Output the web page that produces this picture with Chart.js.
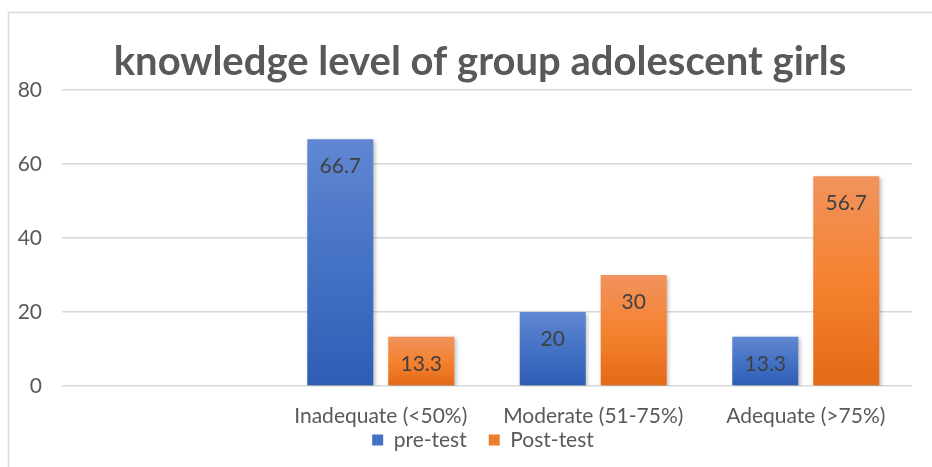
<!DOCTYPE html>
<html>
<head>
<meta charset="utf-8">
<script src="https://cdn.jsdelivr.net/npm/chart.js@4.4.1/dist/chart.umd.min.js"></script>
<style>
  html, body { margin: 0; padding: 0; background: #ffffff; }
  #wrap { width: 932px; height: 467px; position: relative; }
</style>
</head>
<body>
<div id="wrap"><canvas id="c"></canvas></div>
<script>
const categories = ['', 'Inadequate (<50%)', 'Moderate (51-75%)', 'Adequate (>75%)'];
const preTest = [null, 66.7, 20, 13.3];
const postTest = [null, 13.3, 30, 56.7];
const yTicks = [0, 20, 40, 60, 80];
const titleText = 'knowledge level of group adolescent girls';

const BLUE = { top: '#6187d2', mid: '#4472c4', bottom: '#2f5db6', solid: '#4472c4' };
const ORANGE = { top: '#f1935e', mid: '#f58230', bottom: '#e36a17', solid: '#ed7d31' };

function gradientFill(pal) {
  return function (ctx) {
    const chart = ctx.chart;
    if (ctx.type !== 'data' || !chart.chartArea || ctx.raw == null) return pal.solid;
    const ys = chart.scales.y;
    const yTop = ys.getPixelForValue(ctx.raw);
    const yBot = ys.getPixelForValue(0);
    if (!isFinite(yTop) || !isFinite(yBot) || yBot - yTop < 1) return pal.solid;
    const g = chart.ctx.createLinearGradient(0, yTop, 0, yBot);
    g.addColorStop(0, pal.top);
    g.addColorStop(0.5, pal.mid);
    g.addColorStop(1, pal.bottom);
    return g;
  };
}

const framePlugin = {
  id: 'frame',
  beforeDraw(chart) {
    const c = chart.ctx;
    c.save();
    c.fillStyle = '#ffffff';
    c.fillRect(0, 0, chart.width, chart.height);
    c.strokeStyle = '#d9d9d9';
    c.lineWidth = 1.5;
    c.beginPath();
    c.moveTo(8.5, chart.height);
    c.lineTo(8.5, 12.5);
    c.lineTo(chart.width, 12.5);
    c.stroke();
    c.restore();
  }
};

const blockShift = {
  id: 'blockShift',
  afterLayout(chart) {
    const l = chart.legend;
    if (l) {
      l.top -= 22.5;
      l.bottom -= 22.5;
      l.left -= 4;
      l.right -= 4;
    }
    const t = chart.titleBlock;
    if (t) {
      t.left += 24;
      t.right += 24;
    }
  }
};

const shadowPlugin = {
  id: 'barShadow',
  beforeDatasetDraw(chart) {
    const c = chart.ctx;
    c.save();
    c.shadowColor = 'rgba(0,0,0,0.28)';
    c.shadowBlur = 4;
    c.shadowOffsetX = 1.5;
    c.shadowOffsetY = 1.5;
  },
  afterDatasetDraw(chart) {
    chart.ctx.restore();
  }
};

const valueLabels = {
  id: 'valueLabels',
  afterDatasetsDraw(chart) {
    const c = chart.ctx;
    c.save();
    c.font = '21px Lato';
    c.fillStyle = '#404040';
    c.textAlign = 'center';
    c.textBaseline = 'middle';
    chart.data.datasets.forEach((ds, di) => {
      const meta = chart.getDatasetMeta(di);
      meta.data.forEach((el, i) => {
        const v = ds.data[i];
        if (v == null) return;
        c.fillText(String(v), el.x, el.y + 27);
      });
    });
    c.restore();
  }
};

new Chart(document.getElementById('c'), {
  type: 'bar',
  data: {
    labels: categories,
    datasets: [
      { label: 'pre-test', data: preTest, backgroundColor: gradientFill(BLUE), borderWidth: 0 },
      { label: 'Post-test', data: postTest, backgroundColor: gradientFill(ORANGE), borderWidth: 0 }
    ]
  },
  options: {
    responsive: true,
    maintainAspectRatio: false,
    animation: false,
    categoryPercentage: 0.762,
    barPercentage: 0.815,
    layout: { padding: { left: 0, right: 20, top: 0, bottom: -16 } },
    scales: {
      x: {
        grid: { display: false, drawTicks: false },
        border: { display: false },
        ticks: { color: '#595959', font: { family: 'Lato', size: 21 }, padding: 18, maxRotation: 0, autoSkip: false },
        afterFit(s) { s.height = 44; }
      },
      y: {
        min: 0,
        max: 80,
        afterBuildTicks(s) { s.ticks = yTicks.map(v => ({ value: v })); },
        grid: { color: '#d9d9d9', lineWidth: 1.5, drawTicks: false },
        border: { display: false },
        ticks: { color: '#595959', font: { family: 'Lato', size: 21 }, padding: 20 },
        afterFit(s) { s.width = 62; }
      }
    },
    plugins: {
      title: {
        display: true,
        text: titleText,
        color: '#595959',
        font: { family: 'Lato', size: 40, weight: 'bold' },
        padding: { top: 38, bottom: 4 }
      },
      legend: {
        position: 'bottom',
        fullSize: false,
        labels: {
          color: '#595959',
          font: { family: 'Lato', size: 21 },
          boxWidth: 11,
          boxHeight: 11,
          padding: 22,
          generateLabels(chart) {
            return chart.data.datasets.map((ds, i) => ({
              text: ds.label,
              fillStyle: i === 0 ? BLUE.solid : ORANGE.solid,
              strokeStyle: 'rgba(0,0,0,0)',
              lineWidth: 0,
              hidden: false,
              datasetIndex: i,
              fontColor: '#595959'
            }));
          }
        }
      },
      tooltip: { enabled: false }
    }
  },
  plugins: [framePlugin, blockShift, shadowPlugin, valueLabels]
});
</script>
</body>
</html>
